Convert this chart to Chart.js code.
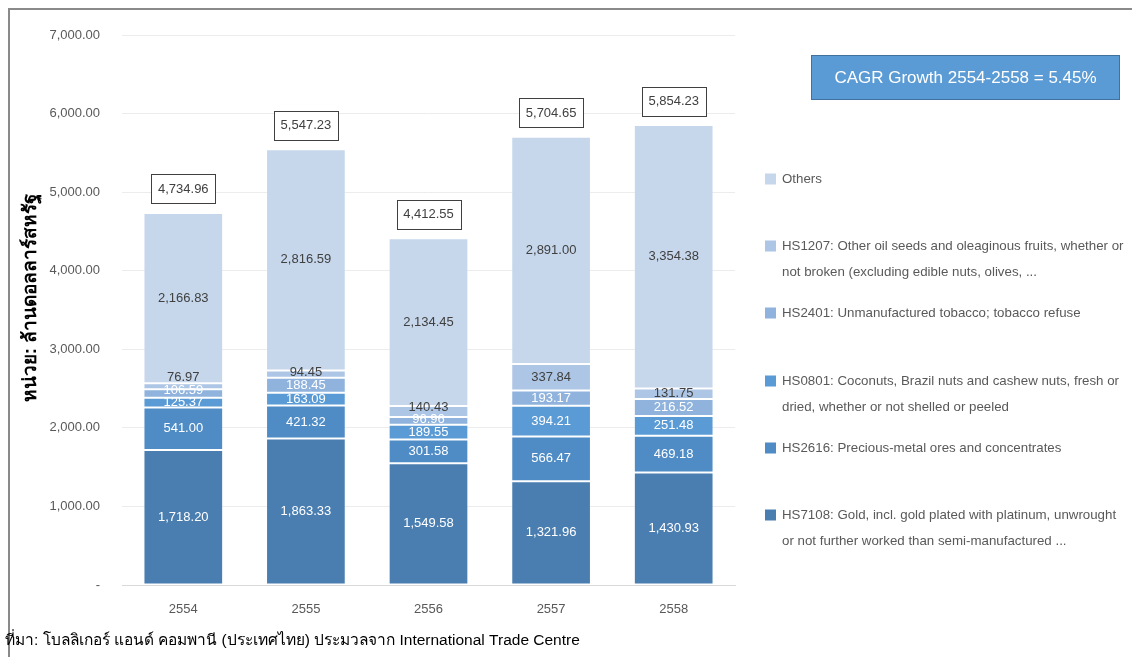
<!DOCTYPE html>
<html>
<head>
<meta charset="utf-8">
<script src="https://cdn.jsdelivr.net/npm/chart.js@4.4.0/dist/chart.umd.min.js"></script>
<style>
html,body{margin:0;padding:0;background:#fff;}
#wrap{position:relative;width:1132px;height:657px;}
</style>
</head>
<body>
<div id="wrap"><canvas id="c"></canvas></div>
<script>
const categories = ['2554', '2555', '2556', '2557', '2558'];
const hs7108 = [1718.20, 1863.33, 1549.58, 1321.96, 1430.93];
const hs2616 = [541.00, 421.32, 301.58, 566.47, 469.18];
const hs0801 = [125.37, 163.09, 189.55, 394.21, 251.48];
const hs2401 = [106.59, 188.45, 96.96, 193.17, 216.52];
const hs1207 = [76.97, 94.45, 140.43, 337.84, 131.75];
const others = [2166.83, 2816.59, 2134.45, 2891.00, 3354.38];
const totals = [4734.96, 5547.23, 4412.55, 5704.65, 5854.23];
const yMax = 7000;
const yStep = 1000;
const yTitle = 'หน่วย: ล้านดอลลาร์สหรัฐ';
const sourceText = 'ที่มา: โบลลิเกอร์ แอนด์ คอมพานี (ประเทศไทย) ประมวลจาก International Trade Centre';
const cagrText = 'CAGR Growth 2554-2558 = 5.45%';

const seriesNames = ['HS7108', 'HS2616', 'HS0801', 'HS2401', 'HS1207', 'Others'];
const seriesValues = [hs7108, hs2616, hs0801, hs2401, hs1207, others];
const seriesColors = ['#4a7eb0', '#4f8cc6', '#5b9bd5', '#8fb3dd', '#adc6e5', '#c6d7ec'];
const labelColors = ['#ffffff', '#ffffff', '#ffffff', '#ffffff', '#404040', '#404040'];

// legend entries, top to bottom (index into series, text lines, y of first line)
const legendItems = [
  {s: 5, lines: ['Others'], y: 179},
  {s: 4, lines: ['HS1207: Other oil seeds and oleaginous fruits, whether or', 'not broken (excluding edible nuts, olives, ...'], y: 246},
  {s: 3, lines: ['HS2401: Unmanufactured tobacco; tobacco refuse'], y: 313},
  {s: 2, lines: ['HS0801: Coconuts, Brazil nuts and cashew nuts, fresh or', 'dried, whether or not shelled or peeled'], y: 381},
  {s: 1, lines: ['HS2616: Precious-metal ores and concentrates'], y: 448},
  {s: 0, lines: ['HS7108: Gold, incl. gold plated with platinum, unwrought', 'or not further worked than semi-manufactured ...'], y: 515}
];

const FONT = '"Liberation Sans", Arial, sans-serif';
const fmt = v => v.toLocaleString('en-US', {minimumFractionDigits: 2, maximumFractionDigits: 2});

const decorPlugin = {
  id: 'decor',
  beforeDraw(chart) {
    const ctx = chart.ctx;
    ctx.save();
    ctx.strokeStyle = '#8a8a8a';
    ctx.lineWidth = 2;
    ctx.beginPath();
    ctx.moveTo(9, 657);
    ctx.lineTo(9, 9);
    ctx.lineTo(1132, 9);
    ctx.stroke();
    ctx.restore();
  },
  afterDraw(chart) {
    const ctx = chart.ctx;
    const area = chart.chartArea;
    ctx.save();
    // y title
    ctx.translate(31, (area.top + area.bottom) / 2 - 12);
    ctx.rotate(-Math.PI / 2);
    ctx.fillStyle = '#000000';
    ctx.font = 'bold 19px ' + FONT;
    ctx.textAlign = 'center';
    ctx.textBaseline = 'middle';
    ctx.fillText(yTitle, 0, 0);
    ctx.restore();

    ctx.save();
    // source
    ctx.fillStyle = '#000000';
    ctx.font = '15.5px ' + FONT;
    ctx.textAlign = 'left';
    ctx.textBaseline = 'middle';
    ctx.fillText(sourceText, 5, 641);

    // CAGR box
    ctx.fillStyle = '#5b9bd5';
    ctx.fillRect(811, 55, 309, 45);
    ctx.strokeStyle = '#41719c';
    ctx.lineWidth = 1;
    ctx.strokeRect(811.5, 55.5, 308, 44);
    ctx.fillStyle = '#ffffff';
    ctx.font = '17px ' + FONT;
    ctx.textAlign = 'center';
    ctx.fillText(cagrText, 965.5, 78);

    // legend
    ctx.font = '13.3px ' + FONT;
    ctx.textAlign = 'left';
    legendItems.forEach(it => {
      ctx.fillStyle = seriesColors[it.s];
      ctx.fillRect(765, it.y - 5.5, 11, 11);
      ctx.fillStyle = '#595959';
      it.lines.forEach((ln, k) => ctx.fillText(ln, 782, it.y + k * 26.5));
    });
    ctx.restore();
  },
  afterDatasetsDraw(chart) {
    const ctx = chart.ctx;
    const yScale = chart.scales.y;
    ctx.save();
    ctx.font = '13px ' + FONT;
    ctx.textAlign = 'center';
    ctx.textBaseline = 'middle';
    categories.forEach((cat, i) => {
      let prevY = Infinity;
      let cx = 0;
      chart.data.datasets.forEach((ds, d) => {
        const el = chart.getDatasetMeta(d).data[i];
        cx = el.x;
        const center = (el.y + el.base) / 2;
        const y = Math.min(center, prevY - 12.5);
        prevY = y;
        ctx.fillStyle = labelColors[d];
        ctx.fillText(fmt(ds.data[i]), el.x, y);
      });
      // total box
      const ty = yScale.getPixelForValue(totals[i]) - 24;
      const txt = fmt(totals[i]);
      const w = ctx.measureText(txt).width + 13;
      const h = 29;
      ctx.fillStyle = '#ffffff';
      ctx.fillRect(Math.round(cx - w / 2) + 0.5, Math.round(ty - h / 2) + 0.5, Math.round(w), h);
      ctx.strokeStyle = '#404040';
      ctx.lineWidth = 1;
      ctx.strokeRect(Math.round(cx - w / 2) + 0.5, Math.round(ty - h / 2) + 0.5, Math.round(w), h);
      ctx.fillStyle = '#404040';
      ctx.fillText(txt, cx, ty + 0.5);
    });
    ctx.restore();
  }
};

const datasets = seriesNames.map((name, k) => ({
  label: name,
  data: seriesValues[k],
  backgroundColor: seriesColors[k],
  borderColor: 'rgba(255,255,255,0.22)',
  borderWidth: 1,
  borderSkipped: false,
  categoryPercentage: 1.0,
  barPercentage: 0.65
}));

new Chart(document.getElementById('c'), {
  type: 'bar',
  data: {labels: categories, datasets: datasets},
  options: {
    responsive: true,
    maintainAspectRatio: false,
    animation: false,
    layout: {padding: {left: 0, right: 397, top: 35, bottom: 27}},
    plugins: {legend: {display: false}, tooltip: {enabled: false}},
    scales: {
      x: {
        stacked: true,
        grid: {display: false, drawTicks: false},
        border: {display: true, color: '#d9d9d9', width: 1},
        ticks: {color: '#595959', font: {family: FONT, size: 13}, padding: 17},
        afterFit(s) { s.height = 45; }
      },
      y: {
        stacked: true,
        min: 0,
        max: yMax,
        grid: {color: '#ececec', drawTicks: false},
        border: {display: false},
        ticks: {
          stepSize: yStep,
          color: '#595959',
          font: {family: FONT, size: 13},
          padding: 22,
          callback: v => v === 0 ? '-' : fmt(v)
        },
        afterFit(s) { s.width = 122; }
      }
    }
  },
  plugins: [decorPlugin]
});
</script>
</body>
</html>
